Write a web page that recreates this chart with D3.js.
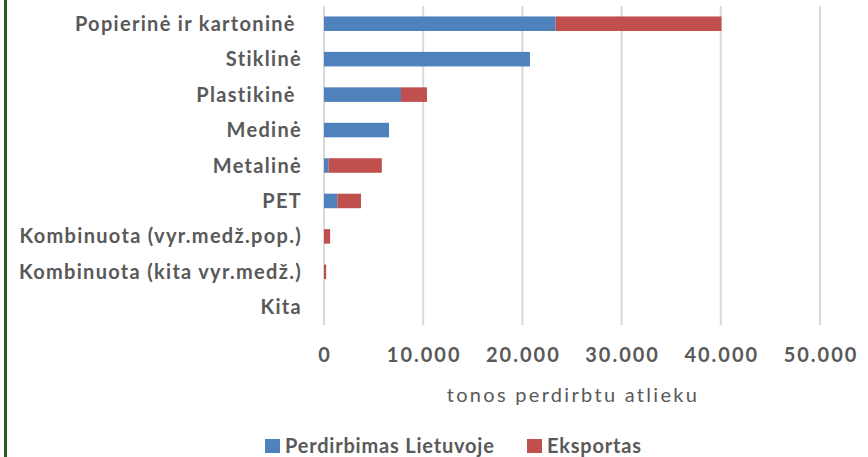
<!DOCTYPE html>
<html>
<head>
<meta charset="utf-8">
<script src="https://cdn.jsdelivr.net/npm/d3@7"></script>
<style>
  body { margin: 0; background: #fff; }
  text { font-family: Lato, "Open Sans", sans-serif; fill: #595959; }
</style>
</head>
<body>
<svg id="chart"></svg>
<script>
// categories top to bottom, trailing spaces are in the original labels
var categories = ["Popierinė ir kartoninė ", "Stiklinė", "Plastikinė ", "Medinė", "Metalinė", "PET",
  "Kombinuota (vyr.medž.pop.)", "Kombinuota (kita vyr.medž.)", "Kita"]
var lietuvoje = [23350, 20760, 7760, 6550, 470, 1340, 0, 0, 0]
var eksportas = [16720, 0, 2620, 0, 5360, 2390, 620, 220, 0]
var seriesNames = ["Perdirbimas Lietuvoje", "Eksportas"]
var seriesColors = ["#4f81bd", "#c0504d"]
var xTicks = [0, 10000, 20000, 30000, 40000, 50000]
var axisTitle = "tonos perdirbtu atlieku"

var width = 868, height = 457

var svg = d3.select("#chart")
  .attr("width", width)
  .attr("height", height)

// green border line on the left
svg.append("rect")
  .attr("x", 4).attr("y", 0)
  .attr("width", 3).attr("height", height)
  .attr("fill", "#1f5f2b")

var x = d3.scaleLinear().domain([0, 50000]).range([324, 820])
var y = d3.scaleBand().domain(categories).range([6, 325]).paddingInner(0.59).paddingOuter(0.295)

// gridlines
svg.append("g")
  .selectAll("line")
  .data(xTicks)
  .enter()
  .append("line")
  .attr("x1", function(d){ return x(d) })
  .attr("x2", function(d){ return x(d) })
  .attr("y1", 6)
  .attr("y2", 325)
  .attr("stroke", "#d9d9d9")
  .attr("stroke-width", 2)

// stacked bars
var rows = categories.map(function(c, i){
  return {cat: c, a: lietuvoje[i], b: eksportas[i]}
})

var bars = svg.append("g")
bars.selectAll("rect.a")
  .data(rows)
  .enter()
  .append("rect")
  .attr("class", "a")
  .attr("x", x(0))
  .attr("y", function(d){ return y(d.cat) })
  .attr("width", function(d){ return x(d.a) - x(0) })
  .attr("height", y.bandwidth())
  .attr("fill", seriesColors[0])

bars.selectAll("rect.b")
  .data(rows)
  .enter()
  .append("rect")
  .attr("class", "b")
  .attr("x", function(d){ return x(d.a) })
  .attr("y", function(d){ return y(d.cat) })
  .attr("width", function(d){ return x(d.a + d.b) - x(d.a) })
  .attr("height", y.bandwidth())
  .attr("fill", seriesColors[1])

// category labels
svg.append("g")
  .selectAll("text")
  .data(categories)
  .enter()
  .append("text")
  .attr("x", 302)
  .attr("y", function(d){ return y(d) + y.bandwidth() / 2 })
  .attr("dy", "0.35em")
  .attr("text-anchor", "end")
  .style("white-space", "pre")
  .style("font-size", "20px")
  .style("font-weight", "bold")
  .style("letter-spacing", "1.3px")
  .text(function(d){ return d })

// tick labels
var fmt = d3.formatLocale({decimal: ",", thousands: ".", grouping: [3], currency: ["", ""]}).format(",d")
svg.append("g")
  .selectAll("text")
  .data(xTicks)
  .enter()
  .append("text")
  .attr("x", function(d){ return x(d) + 1 })
  .attr("y", 362)
  .attr("text-anchor", "middle")
  .style("font-size", "20px")
  .style("font-weight", "bold")
  .style("letter-spacing", "2px")
  .text(function(d){ return fmt(d) })

svg.append("text")
  .attr("x", 573)
  .attr("y", 402)
  .attr("text-anchor", "middle")
  .style("font-size", "20px")
  .style("letter-spacing", "2.3px")
  .text(axisTitle)

// legend
var legendX = [265, 527]
var legend = svg.append("g")
  .selectAll("g")
  .data(seriesNames)
  .enter()
  .append("g")
  .attr("transform", function(d, i){ return "translate(" + legendX[i] + ",439)" })

legend.append("rect")
  .attr("width", 15).attr("height", 14)
  .attr("fill", function(d, i){ return seriesColors[i] })

legend.append("text")
  .attr("x", 20)
  .attr("y", 14)
  .style("font-size", "20px")
  .style("font-weight", "bold")
  .style("letter-spacing", "0.8px")
  .text(function(d){ return d })
</script>
</body>
</html>
